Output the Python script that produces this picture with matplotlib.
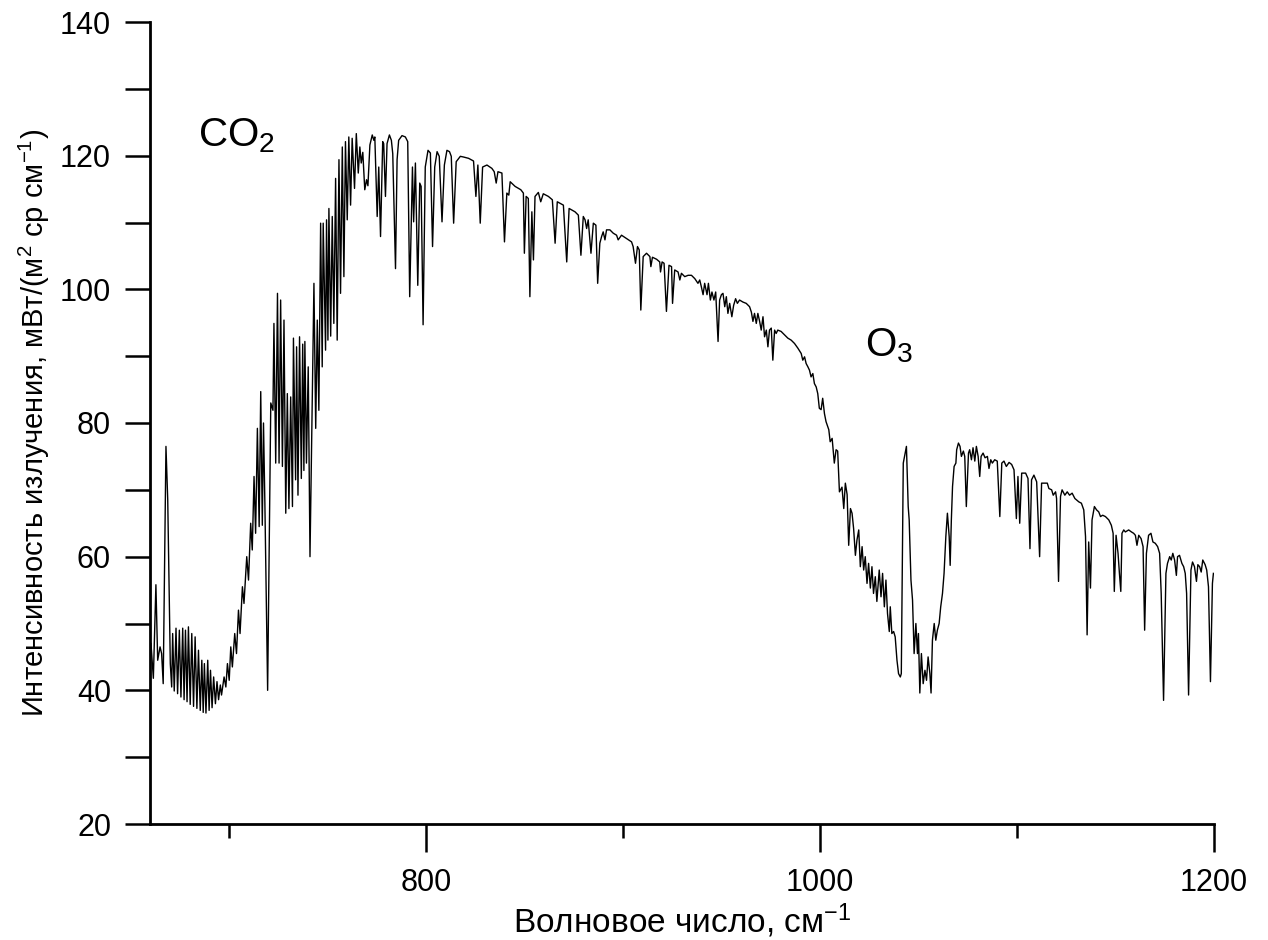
import matplotlib
matplotlib.use("Agg")
import matplotlib.pyplot as plt

plt.rcParams['font.family'] = ['Liberation Sans', 'DejaVu Sans']
plt.rcParams['mathtext.default'] = 'regular'

# Spectrum: wavenumber (cm-1) and radiance (mW/(m2 sr cm-1))
wavenumber = [
    660.5, 661.7, 663.0, 663.9, 665.1, 665.9, 666.7, 668.1, 669.0, 670.3,
    671.0, 671.5, 672.3, 673.2, 674.0, 674.9, 675.7, 676.6, 677.3, 678.0,
    678.8, 679.5, 680.4, 681.2, 682.1, 682.9, 683.8, 684.6, 685.5, 686.3,
    687.0, 687.6, 688.4, 689.3, 690.0, 690.7, 691.5, 692.3, 693.2, 694.0,
    694.8, 695.7, 696.3, 697.6, 698.5, 699.3, 700.2, 701.0, 701.8, 703.0,
    703.9, 704.9, 705.7, 706.9, 707.7, 709.1, 710.0, 711.1, 711.9, 712.8,
    713.6, 714.5, 715.4, 716.2, 717.0, 717.6, 718.3, 719.7, 721.3, 722.4,
    722.9, 723.8, 724.7, 725.5, 726.3, 727.2, 728.0, 728.9, 729.7, 730.5,
    731.4, 732.3, 732.8, 733.9, 734.4, 735.1, 735.9, 736.8, 737.5, 738.1,
    738.6, 739.4, 740.3, 741.2, 743.2, 744.1, 744.9, 745.7, 746.6, 747.4,
    747.9, 749.1, 749.6, 750.3, 750.8, 751.7,
    752.5, 753.3, 754.2, 755.0, 755.9, 756.7, 757.6, 758.4, 759.2, 760.1,
    760.9, 761.8, 762.6, 763.8, 764.7, 765.7, 766.5, 767.2, 768.0, 769.0,
    769.9, 770.6, 771.6, 772.8, 773.6, 774.1, 775.3, 776.1, 777.0, 778.1,
    778.6, 779.5, 780.3, 781.5, 782.5, 783.2, 784.6, 785.4, 786.2, 787.9,
    789.6, 790.8, 791.8, 793.2, 793.8, 794.7, 795.9, 796.9, 797.6, 798.6,
    799.7, 801.1, 802.3, 803.4, 804.5, 805.7, 806.8, 808.2, 809.4, 810.7,
    812.0, 812.9, 814.1, 815.4, 817.5, 819.1, 821.7, 824.2, 825.4, 826.4,
    827.6, 828.8, 831.0, 833.5, 834.7, 835.7, 836.6, 838.6, 839.9, 841.1,
    842.1, 842.8, 845.3, 848.2, 849.5, 850.0, 850.9, 852.0, 852.8, 853.8,
    854.6, 855.4, 857.1, 858.3, 859.6, 862.2, 864.2, 865.6, 866.7, 869.8,
    871.5, 872.7, 875.7, 877.4, 878.7, 879.9, 880.8, 881.6, 882.4, 883.8,
    885.0, 886.3, 887.2, 888.3, 889.2, 890.0, 890.9, 891.7, 893.4, 895.1,
    896.8, 897.6, 899.3, 901.9, 904.4, 905.2, 906.4, 907.4, 908.3, 909.1,
    910.3, 912.0, 913.7, 914.2, 915.0, 917.1, 918.7, 919.1, 919.9, 920.9,
    922.1, 923.4, 924.7, 925.2, 926.3, 928.0, 928.9, 929.7, 931.4, 933.1,
    934.8, 936.5, 938.1, 939.0, 939.8, 940.7, 941.5, 942.7, 943.4, 944.4,
    945.2, 946.2, 947.1, 948.3, 949.1, 950.0, 950.8, 951.7, 952.5, 953.3,
    954.2, 955.3, 956.2, 957.2, 958.1, 959.2, 960.9, 962.6, 964.3, 965.2,
    966.0, 966.8, 967.7, 968.5, 969.4, 970.2, 971.1, 971.9, 972.8, 973.6,
    974.4, 975.3, 976.1, 977.0, 977.8, 978.6, 980.3, 982.0, 983.7, 985.4,
    987.1, 988.8, 990.5, 991.3, 992.2, 993.0, 993.9, 994.7, 995.5, 996.4,
    997.2, 998.1, 998.9, 999.7, 1000.6, 1001.4, 1002.3, 1003.1, 1004.5, 1005.2,
    1006.2, 1007.3, 1008.2, 1009.0, 1009.9, 1011.2, 1012.1, 1012.9, 1013.8, 1014.6,
    1015.5, 1016.3, 1017.1, 1018.0, 1018.8, 1019.7, 1020.5, 1021.4, 1022.2, 1023.0,
    1023.9, 1024.7, 1025.6, 1026.4, 1027.2, 1028.1, 1028.9, 1030.1, 1031.0, 1031.8,
    1032.7, 1033.5, 1034.3, 1035.2, 1035.7, 1036.5, 1037.4, 1038.2, 1039.1, 1039.9,
    1040.8, 1041.3, 1042.3, 1043.9, 1044.8, 1045.3, 1046.2, 1047.0, 1047.8, 1048.7,
    1049.5, 1050.0, 1050.7, 1051.5, 1052.4, 1053.3, 1054.1, 1054.9, 1055.8, 1056.4,
    1057.1, 1058.0, 1058.8, 1059.6, 1060.5, 1061.3, 1062.2, 1063.0, 1063.9, 1064.7,
    1065.6, 1066.1, 1066.7, 1067.3, 1068.1, 1069.0, 1069.4, 1070.3, 1071.1, 1071.8,
    1072.8, 1073.5, 1074.3, 1075.4, 1076.0, 1076.9, 1077.7, 1078.6, 1079.4, 1080.3,
    1081.1, 1081.8, 1082.8, 1083.8, 1085.0, 1085.8, 1086.7, 1087.5, 1088.7, 1090.0,
    1091.3, 1092.3, 1093.4, 1094.6, 1096.0, 1097.3, 1098.5, 1099.7, 1100.5, 1101.4,
    1102.4, 1104.4, 1105.6, 1106.6, 1107.4, 1108.6, 1110.0, 1111.5, 1112.5, 1114.2,
    1115.4, 1116.2, 1117.6, 1118.4, 1119.6, 1120.1, 1121.1, 1122.1, 1122.9, 1124.3,
    1125.5, 1126.7, 1128.0, 1129.4, 1131.4, 1132.7, 1133.9, 1134.8, 1135.6, 1136.4,
    1137.3, 1138.1, 1139.3, 1140.4, 1141.5, 1142.4, 1143.5, 1144.9, 1146.6, 1147.9,
    1148.8, 1149.4, 1150.3, 1151.3, 1152.0, 1152.7, 1153.3, 1154.2, 1155.0, 1156.7,
    1158.1, 1159.2, 1160.1, 1160.9, 1161.8, 1163.0, 1164.0, 1164.8, 1165.7, 1166.8,
    1168.0, 1169.0, 1170.2, 1171.4, 1172.4, 1173.2, 1174.4, 1175.6, 1176.4, 1177.5,
    1178.3, 1179.1, 1180.0, 1180.9, 1181.5, 1182.5, 1183.7, 1184.6, 1185.4, 1186.1,
    1187.1, 1188.3, 1189.1, 1190.1, 1191.1, 1191.8, 1192.7, 1193.5, 1194.3, 1195.5,
    1196.3, 1197.2, 1198.2, 1199.2, 1199.7,
]
radiance = [
    47.0, 41.8, 55.8, 44.5, 46.5, 45.5, 41.0, 76.5, 68.5, 44.0,
    40.5, 48.5, 39.9, 49.3, 39.5, 49.0, 39.0, 49.3, 38.6, 49.0,
    38.3, 49.5, 37.9, 48.5, 37.6, 48.0, 37.3, 46.0, 37.0, 44.5,
    36.7, 44.0, 36.6, 44.5, 37.0, 43.0, 37.4, 42.0, 38.0, 41.3,
    38.6, 40.8, 39.3, 42.0, 40.5, 44.0, 41.5, 46.5, 43.5, 48.5,
    45.5, 52.0, 48.5, 55.5, 53.0, 60.0, 56.5, 65.0, 61.0, 72.0,
    63.5, 79.2, 64.5, 84.7, 64.7, 80.0, 68.0, 40.0, 83.0, 81.9,
    94.9, 74.0, 99.4, 74.0, 98.4, 73.5, 95.4, 66.5, 84.4, 67.2,
    83.9, 67.5, 92.7, 71.5, 91.4, 69.2, 92.9, 71.7, 91.8, 72.9,
    92.2, 74.0, 88.4, 60.0, 100.9, 79.2, 95.4, 81.9, 109.9, 88.4,
    109.9, 90.9, 110.4, 92.4, 112.1, 93.0,
    110.9, 94.9, 116.6, 92.4, 119.4, 99.4, 121.3, 101.9, 122.1, 110.4,
    122.8, 112.6, 122.6, 115.1, 123.3, 117.4, 121.3, 118.9, 120.5, 114.9,
    116.4, 115.5, 121.6, 123.1, 122.3, 122.8, 110.9, 118.3, 107.9, 122.1,
    121.8, 113.9, 121.8, 123.1, 122.3, 120.3, 103.1, 119.4, 122.3, 123.0,
    122.8, 122.1, 98.9, 118.3, 110.1, 118.9, 100.6, 115.9, 115.4, 94.7,
    118.3, 120.8, 120.4, 106.4, 118.3, 120.6, 119.9, 110.1, 118.6, 120.8,
    120.6, 119.9, 109.9, 119.1, 119.9, 119.8, 119.6, 119.2, 113.9, 118.6,
    109.9, 118.3, 118.6, 118.1, 117.6, 115.9, 117.6, 117.4, 107.1, 114.4,
    114.1, 116.1, 115.4, 114.9, 114.4, 105.4, 113.9, 113.6, 98.9, 111.6,
    104.4, 113.9, 114.5, 113.1, 114.3, 113.9, 113.4, 106.9, 113.1, 112.6,
    104.1, 112.1, 111.6, 111.1, 105.1, 110.9, 110.4, 109.1, 110.4, 105.4,
    109.9, 109.6, 100.9, 106.9, 107.9, 108.6, 107.4, 108.9, 108.9, 108.4,
    108.1, 107.4, 108.1, 107.6, 107.1, 106.4, 103.9, 106.4, 105.9, 96.9,
    104.9, 105.4, 104.9, 103.4, 104.8, 104.5, 104.1, 102.6, 104.1, 103.9,
    96.7, 103.6, 103.4, 97.9, 102.9, 102.6, 101.4, 102.4, 101.9, 102.1,
    102.1, 101.6, 100.9, 101.4, 100.4, 99.2, 100.9, 99.2, 100.9, 98.4,
    99.6, 98.4, 99.6, 92.2, 98.4, 99.2, 99.4, 97.4, 98.9, 96.4,
    97.9, 95.9, 97.6, 98.6, 97.9, 98.4, 98.1, 97.9, 97.4, 96.6,
    95.2, 96.4, 94.9, 96.4, 95.2, 93.9, 95.9, 92.9, 93.9, 91.4,
    93.9, 94.2, 89.4, 93.9, 93.4, 93.9, 93.7, 93.2, 92.7, 92.4,
    91.9, 91.2, 90.4, 89.4, 89.9, 88.9, 88.4, 87.9, 86.9, 87.4,
    85.9, 85.4, 84.4, 82.2, 82.0, 83.7, 81.4, 80.2, 79.0, 77.2,
    77.7, 74.0, 76.0, 75.8, 69.7, 70.4, 67.2, 71.0, 69.3, 61.7,
    67.2, 66.5, 64.2, 60.2, 62.5, 64.0, 58.5, 61.5, 58.0, 60.0,
    56.0, 59.0, 55.3, 58.5, 54.5, 57.0, 53.3, 58.0, 54.0, 57.5,
    52.5, 56.5, 51.5, 48.8, 52.5, 48.5, 48.8, 48.0, 44.5, 42.5,
    42.0, 42.5, 74.0, 76.5, 67.5, 65.5, 56.5, 53.5, 45.5, 50.0,
    45.5, 48.5, 39.6, 45.5, 41.0, 43.0, 41.5, 45.0, 42.5, 39.6,
    47.5, 50.0, 47.5, 49.0, 50.0, 52.5, 54.5, 57.5, 63.0, 66.5,
    63.0, 58.7, 65.5, 70.5, 73.5, 74.0, 76.0, 77.0, 76.5, 75.0,
    75.8, 75.0, 67.5, 75.5, 76.0, 74.5, 76.3, 74.3, 76.5, 75.0,
    72.0, 75.0, 75.5, 74.8, 75.0, 73.2, 74.5, 74.0, 74.5, 74.3,
    66.0, 74.0, 74.3, 73.5, 74.1, 73.8, 73.0, 65.7, 72.0, 65.0,
    72.5, 72.5, 71.7, 61.2, 71.5, 72.2, 71.2, 60.0, 71.0, 71.0,
    71.0, 70.2, 70.0, 69.2, 69.7, 68.7, 56.3, 69.0, 70.0, 69.2,
    69.7, 69.2, 69.5, 68.7, 68.2, 68.0, 67.0, 63.0, 48.3, 62.2,
    55.3, 65.5, 67.5, 67.0, 66.7, 66.0, 66.2, 66.0, 65.5, 64.7,
    63.5, 54.8, 63.2, 60.5, 57.5, 54.8, 63.5, 64.0, 63.7, 64.0,
    63.7, 63.5, 63.2, 61.7, 63.2, 62.7, 61.5, 49.0, 60.5, 63.2,
    63.5, 62.2, 62.0, 61.5, 60.5, 54.5, 38.5, 57.5, 59.0, 60.0,
    59.5, 60.5, 59.5, 57.2, 60.0, 60.2, 59.0, 58.5, 57.5, 54.5,
    39.3, 58.0, 59.2, 58.5, 56.3, 58.8, 58.5, 57.7, 59.5, 58.8,
    58.0, 55.5, 41.3, 56.0, 57.5,
]

x_major = [800, 1000, 1200]
x_minor = [700, 900, 1100]
y_major = [20, 40, 60, 80, 100, 120, 140]
y_minor = [30, 50, 70, 90, 110, 130]

fig = plt.figure(figsize=(12.68, 9.4), dpi=100)
ax = fig.add_axes([150 / 1268, 1 - 824 / 940, (1214 - 150) / 1268, (824 - 22) / 940])

ax.plot(wavenumber, radiance, color='black', lw=1.0)

ax.set_xlim(660, 1200)
ax.set_ylim(20, 140)

ax.spines['top'].set_visible(False)
ax.spines['right'].set_visible(False)
ax.spines['left'].set_linewidth(2)
ax.spines['bottom'].set_linewidth(2)

ax.set_xticks(x_major)
ax.set_xticks(x_minor, minor=True)
ax.set_yticks(y_major)
ax.set_yticks(y_minor, minor=True)
ax.tick_params(axis='x', which='major', direction='out', length=20, width=1.8,
               labelsize=22, pad=12)
ax.tick_params(axis='x', which='minor', direction='out', length=10, width=1.8)
ax.tick_params(axis='y', which='both', direction='out', length=18, width=1.8,
               labelsize=22, pad=10)

ax.set_xlabel('Волновое число, см$^{-1}$', fontsize=24, labelpad=2)
ax.set_ylabel('Интенсивность излучения, мВт/(м$^{2}$ ср см$^{-1}$)', fontsize=21, labelpad=6)

ax.text(704, 123, 'CO$_2$', fontsize=29, ha='center', va='center')
ax.text(1035, 91.5, 'O$_3$', fontsize=29, ha='center', va='center')

fig.savefig('out.png', dpi=100)
